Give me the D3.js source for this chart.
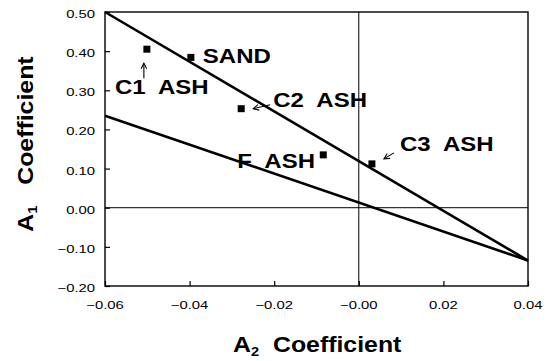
<!DOCTYPE html>
<html>
<head>
<meta charset="utf-8">
<script src="https://cdn.jsdelivr.net/npm/d3@7"></script>
<style>
  body { margin: 0; background: #fff; }
  text { font-family: "Liberation Sans", Arial, Helvetica, sans-serif; fill: #000; }
</style>
</head>
<body>
<div id="chart"></div>
<script>
// point data
var ptNames = ["C1  ASH", "SAND", "C2  ASH", "F  ASH", "C3  ASH"];
var ptA2 = [-0.0501, -0.0397, -0.0278, -0.0084, 0.0031];
var ptA1 = [0.405, 0.384, 0.253, 0.135, 0.112];

// the two straight lines
var lineA2 = [-0.06, 0.04];
var upperA1 = [0.50, -0.135];
var lowerA1 = [0.235, -0.135];

var xTicks = [-0.06, -0.04, -0.02, 0, 0.02, 0.04];
var xTickLabels = ["\u22120.06", "\u22120.04", "\u22120.02", "\u22120.00", "0.02", "0.04"];
var yTicks = [0.5, 0.4, 0.3, 0.2, 0.1, 0, -0.1, -0.2];
var yTickLabels = ["0.50", "0.40", "0.30", "0.20", "0.10", "0.00", "\u22120.10", "\u22120.20"];

var W = 550, H = 361;
var plotL = 105, plotR = 528, plotT = 12, plotB = 286;

var x = d3.scaleLinear().domain([-0.06, 0.04]).range([plotL, plotR]);
var y = d3.scaleLinear().domain([-0.2, 0.5]).range([plotB, plotT]);

var svg = d3.select("#chart")
    .append("svg")
    .attr("width", W)
    .attr("height", H);

// wide squat lettering of the original: stretch text horizontally
function wideText(g, px, py, str, size, weight, sx, anchor, rotate) {
    var t = g.append("g")
        .attr("transform", "translate(" + px + "," + py + ")" + (rotate ? " rotate(" + rotate + ")" : "") + " scale(" + sx + ",1)")
        .append("text")
        .attr("font-size", size)
        .attr("font-weight", weight)
        .attr("text-anchor", anchor || "start")
        .style("white-space", "pre")
        .text(str);
    return t;
}

// frame
svg.append("rect")
    .attr("x", plotL)
    .attr("y", plotT)
    .attr("width", plotR - plotL)
    .attr("height", plotB - plotT)
    .attr("fill", "none")
    .attr("stroke", "#000")
    .attr("stroke-width", 1.4);

// zero lines
svg.append("line")
    .attr("x1", plotL).attr("x2", plotR)
    .attr("y1", y(0)).attr("y2", y(0))
    .attr("stroke", "#000").attr("stroke-width", 1);
svg.append("line")
    .attr("x1", x(0)).attr("x2", x(0))
    .attr("y1", plotT).attr("y2", plotB)
    .attr("stroke", "#000").attr("stroke-width", 1);

// ticks pointing inward
var yAxis = d3.axisLeft(y).tickValues(yTicks).tickSize(-5).tickFormat("");
var gy = svg.append("g").attr("transform", "translate(" + plotL + ",0)").call(yAxis);
gy.select(".domain").remove();
gy.selectAll("line").attr("stroke-width", 1.2);

var xAxis = d3.axisBottom(x).tickValues(xTicks).tickSize(-5).tickFormat("");
var gx = svg.append("g").attr("transform", "translate(0," + plotB + ")").call(xAxis);
gx.select(".domain").remove();
gx.selectAll("line").attr("stroke-width", 1.2);

// tick labels
yTicks.forEach(function (v, i) {
    wideText(svg, plotL - 10, y(v) + 6, yTickLabels[i], 11, "normal", 1.35, "end");
});
xTicks.forEach(function (v, i) {
    wideText(svg, x(v), plotB + 23, xTickLabels[i], 11, "normal", 1.35, "middle");
});

// lines
var line = d3.line().x(function (d) { return x(d[0]); }).y(function (d) { return y(d[1]); });
[upperA1, lowerA1].forEach(function (ys) {
    svg.append("path")
        .datum(lineA2.map(function (v, i) { return [v, ys[i]]; }))
        .attr("d", line)
        .attr("fill", "none")
        .attr("stroke", "#000")
        .attr("stroke-width", 2.6);
});

// points
var sq = 7;
ptA2.forEach(function (v, i) {
    svg.append("rect")
        .attr("x", x(v) - sq / 2)
        .attr("y", y(ptA1[i]) - sq / 2)
        .attr("width", sq)
        .attr("height", sq)
        .attr("fill", "#000");
});

// label layout relative to each point (pixels): text start, baseline, arrow tail -> head
var labelDx = [-32, 12, 32, -86, 28];
var labelDy = [45, 6, -2, 13, -13];
var arrows = [[-3, 29, -3, 14], null, [29, -4, 12, 0], null, [22, -11, 12, -5]];

svg.append("defs").append("marker")
    .attr("id", "head")
    .attr("viewBox", "0 0 10 10")
    .attr("refX", 9).attr("refY", 5)
    .attr("markerWidth", 7).attr("markerHeight", 7)
    .attr("markerUnits", "userSpaceOnUse")
    .attr("orient", "auto")
    .append("path")
    .attr("d", "M1,1 L9,5 L1,9")
    .attr("fill", "none")
    .attr("stroke", "#000")
    .attr("stroke-width", 1.5);

ptNames.forEach(function (name, i) {
    var px = x(ptA2[i]), py = y(ptA1[i]);
    wideText(svg, px + labelDx[i], py + labelDy[i], name, 20, "bold", 1.2, "start");
    var a = arrows[i];
    if (a) {
        svg.append("line")
            .attr("x1", px + a[0]).attr("y1", py + a[1])
            .attr("x2", px + a[2]).attr("y2", py + a[3])
            .attr("stroke", "#000")
            .attr("stroke-width", 1.1)
            .attr("marker-end", "url(#head)");
    }
});

// axis titles
var xt = wideText(svg, 233, 352, "A", 22, "bold", 1.13, "start");
xt.append("tspan").attr("font-size", 13).attr("dy", 4).text("2");
xt.append("tspan").attr("dy", -4).text("  Coefficient");

var yt = wideText(svg, 33, 144, "A", 22, "bold", 1.13, "middle", -90);
yt.append("tspan").attr("font-size", 13).attr("dy", 4).text("1");
yt.append("tspan").attr("dy", -4).text("   Coefficient");
</script>
</body>
</html>
